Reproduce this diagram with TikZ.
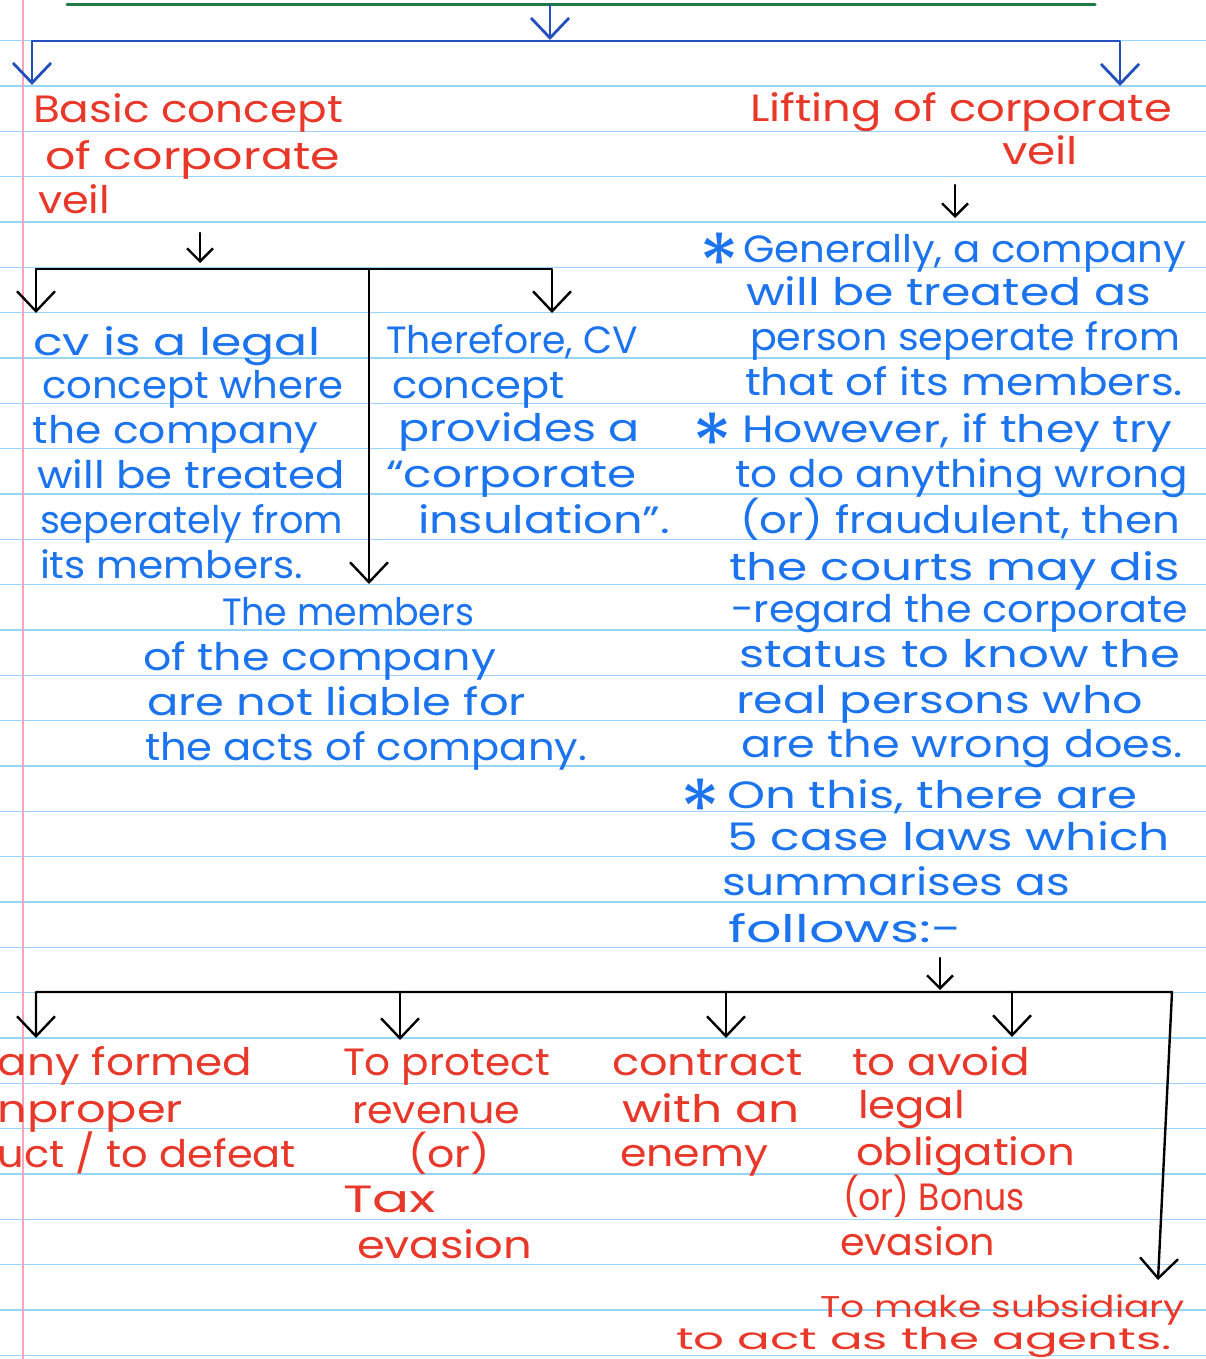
\documentclass[tikz,border=0pt]{standalone}
\usepackage{fontspec}
\setmainfont{Poppins}
\usepackage{graphicx}
\usetikzlibrary{arrows.meta}

\definecolor{inkred}{HTML}{E8382A}
\definecolor{inkblue}{HTML}{1B74EE}
\definecolor{penblue}{HTML}{2350BE}
\definecolor{pengreen}{HTML}{1E7B45}
\definecolor{ruleblue}{HTML}{96D5F5}
\definecolor{marginpink}{HTML}{F5A6BE}

% one handwritten line, stretched to the width it takes on the page
\newcommand\inkfit[2]{\resizebox{#1pt}{\height}{#2}}
% \inkline{style}{name}{x,y}{width}{text}
\newcommand\inkline[5]{\node[#1] (#2) at (#3) {\inkfit{#4}{#5}};}
% bullet star, sitting on the baseline and as tall as the small letters
\newcommand\inkstar{\raisebox{-31pt}{\resizebox{40pt}{!}{*}}}

\tikzset{
  ink/.style={anchor=base west, inner sep=0pt, outer sep=0pt,
              font=\fontsize{38}{40}\selectfont},
  redink/.style={ink, text=inkred},
  blueink/.style={ink, text=inkblue},
  smallred/.style={redink, font=\fontsize{30}{32}\selectfont},
  rule/.style={draw=ruleblue, line width=1.4pt},
  conn/.style={line width=2.4pt, line cap=round, line join=round},
  bluepen/.style={conn, draw=penblue, line width=2.8pt},
  bigtip/.style={-{Straight Barb[length=20pt,width=38pt]}},
  bothtips/.style={{Straight Barb[length=20pt,width=38pt]}-{Straight Barb[length=20pt,width=38pt]}},
  smalltip/.style={-{Straight Barb[length=13pt,width=26pt]}},
}

\begin{document}
\begin{tikzpicture}[x=1pt,y=-1pt]
\useasboundingbox (0,0) rectangle (1206,1359);
\clip (0,0) rectangle (1206,1359);
\fill[white] (0,0) rectangle (1206,1359);

% ruled paper
\foreach \k in {0,...,29}
  \draw[rule] (0,{40.7+45.33*\k}) -- (1206,{40.7+45.33*\k});
\draw[draw=marginpink, line width=1.2pt] (23,0) -- (23,1359);

% ---- top split ----
\coordinate (gL) at (67,5);
\coordinate (gR) at (1095,5);
\coordinate (gM) at (550,5);
\coordinate (bM) at (550,40);
\coordinate (bL) at (32,41);
\coordinate (bR) at (1120,41);
\coordinate (tipL) at (32,85);
\coordinate (tipR) at (1120,86);
\draw[conn, draw=pengreen, line width=3pt] (gL) -- (gR);
\draw[bluepen, bigtip] (gM) -- (bM);
\draw[bluepen, bothtips] (tipL) -- (bL) -- (bR) -- (tipR);

% ---- headings ----
\inkline{redink}{h1}{33,123}{310}{Basic concept}
\inkline{redink}{h2}{45,170}{295}{of corporate}
\inkline{redink}{h3}{38,213}{72}{veil}
\inkline{redink}{l1}{750,122}{422}{Lifting of corporate}
\inkline{redink}{l2}{1002,165}{76}{veil}

% ---- left branch ----
\coordinate (a0) at (200,233);
\coordinate (a1) at (200,263);
\draw[conn, smalltip] (a0) -- (a1);
\coordinate (kL) at (36,313);
\coordinate (kLt) at (36,269);
\coordinate (kM) at (369,269);
\coordinate (kMt) at (369,584);
\coordinate (kRt) at (552,269);
\coordinate (kR) at (552,313);
\draw[conn, bothtips] (kL) -- (kLt) -- (kRt) -- (kR);
\draw[conn, bigtip] (kM) -- (kMt);

\inkline{blueink}{c1}{33,355}{287}{cv is a legal}
\inkline{blueink}{c2}{42,398}{301}{concept where}
\inkline{blueink}{c3}{33,443}{285}{the company}
\inkline{blueink}{c4}{37,488}{308}{will be treated}
\inkline{blueink}{c5}{40,533}{303}{seperately from}
\inkline{blueink}{c6}{40,578}{263}{its members.}

\inkline{blueink}{d1}{386,353}{252}{Therefore, CV}
\inkline{blueink}{d2}{392,398}{173}{concept}
\inkline{blueink}{d3}{398,441}{242}{provides a}
\inkline{blueink}{d4}{386,487}{251}{“corporate}
\inkline{blueink}{d5}{418,533}{252}{insulation”.}

\inkline{blueink}{m1}{222,625}{252}{The members}
\inkline{blueink}{m2}{143,670}{353}{of the company}
\inkline{blueink}{m3}{147,715}{379}{are not liable for}
\inkline{blueink}{m4}{145,760}{442}{the acts of company.}

% ---- right branch ----
\coordinate (r0) at (955,185);
\coordinate (r1) at (955,218);
\draw[conn, smalltip] (r0) -- (r1);

\node[blueink] (s1) at (699,262) {\inkstar};
\inkline{blueink}{g1}{743,262}{443}{Generally, a company}
\inkline{blueink}{g2}{746,305}{405}{will be treated as}
\inkline{blueink}{g3}{750,350}{430}{person seperate from}
\inkline{blueink}{g4}{745,395}{438}{that of its members.}
\node[blueink] (s2) at (692,442) {\inkstar};
\inkline{blueink}{g5}{742,442}{430}{However, if they try}
\inkline{blueink}{g6}{735,487}{453}{to do anything wrong}
\inkline{blueink}{g7}{740,533}{440}{(or) fraudulent, then}
\inkline{blueink}{g8}{729,580}{451}{the courts may dis}
\inkline{blueink}{g9}{731,622}{457}{-regard the corporate}
\inkline{blueink}{g10}{739,667}{441}{status to know the}
\inkline{blueink}{g11}{736,713}{407}{real persons who}
\inkline{blueink}{g12}{741,757}{442}{are the wrong does.}
\node[blueink] (s3) at (680,808) {\inkstar};
\inkline{blueink}{g13}{727,808}{410}{On this, there are}
\inkline{blueink}{g14}{727,850}{443}{5 case laws which}
\inkline{blueink}{g15}{722,895}{348}{summarises as}
\inkline{blueink}{g16}{728,942}{234}{follows:-}

% ---- the five case laws ----
\coordinate (f0) at (940,958);
\coordinate (f1) at (940,990);
\draw[conn, smalltip] (f0) -- (f1);
\coordinate (e1) at (36,1038);
\coordinate (e1t) at (36,992);
\coordinate (e5t) at (1172,992);
\coordinate (e5) at (1158,1280);
\coordinate (e2t) at (400,992);
\coordinate (e2) at (400,1040);
\coordinate (e3t) at (726,992);
\coordinate (e3) at (726,1038);
\coordinate (e4t) at (1012,992);
\coordinate (e4) at (1012,1037);
\draw[conn, bothtips] (e1) -- (e1t) -- (e5t) -- (e5);
\draw[conn, bigtip] (e2t) -- (e2);
\draw[conn, bigtip] (e3t) -- (e3);
\draw[conn, bigtip] (e4t) -- (e4);

\inkline{redink}{p1}{-2,1075}{254}{any formed}
\inkline{redink}{p2}{-2,1122}{185}{nproper}
\inkline{redink}{p3}{-2,1167}{298}{uct / to defeat}

\inkline{redink}{q1}{343,1075}{207}{To protect}
\inkline{redink}{q2}{352,1123}{168}{revenue}
\inkline{redink}{q3}{408,1167}{82}{(or)}
\inkline{redink}{q4}{343,1212}{93}{Tax}
\inkline{redink}{q5}{357,1258}{175}{evasion}

\inkline{redink}{u1}{612,1075}{191}{contract}
\inkline{redink}{u2}{622,1122}{178}{with an}
\inkline{redink}{u3}{620,1166}{148}{enemy}

\inkline{redink}{v1}{852,1075}{178}{to avoid}
\inkline{redink}{v2}{858,1118}{107}{legal}
\inkline{redink}{v3}{856,1165}{219}{obligation}
\inkline{redink}{v4}{843,1210}{182}{(or) Bonus}
\inkline{redink}{v5}{840,1255}{155}{evasion}

\inkline{smallred}{w1}{820,1317}{365}{To make subsidiary}
\inkline{smallred}{w2}{676,1349}{496}{to act as the agents.}
\end{tikzpicture}
\end{document}
